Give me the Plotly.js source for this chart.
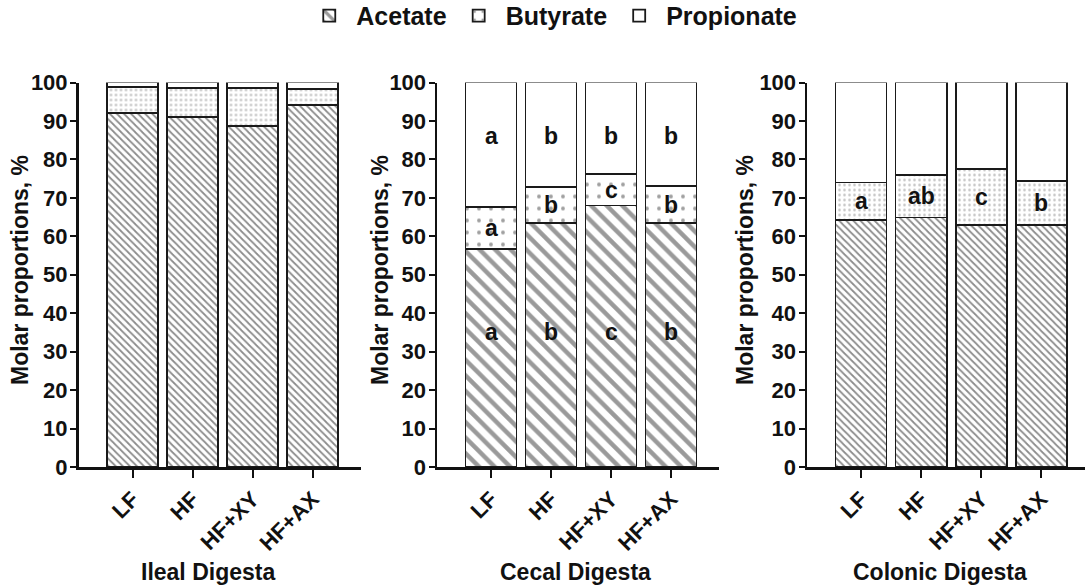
<!DOCTYPE html>
<html>
<head>
<meta charset="utf-8">
<script src="https://cdn.plot.ly/plotly-3.0.1.min.js"></script>
<style>html,body{margin:0;padding:0;background:#fff;}#chart{width:1085px;height:586px;}</style>
</head>
<body>
<div id="chart"></div>
<script>
// ---- data ----
var groups = ["LF", "HF", "HF+XY", "HF+AX"];
var panelTitles = ["Ileal Digesta", "Cecal Digesta", "Colonic Digesta"];
var seriesNames = ["Acetate", "Butyrate", "Propionate"];

var ilealAcetate    = [92.0, 91.0, 88.6, 94.1];
var ilealButyrate   = [6.8, 7.6, 10.0, 4.3];
var ilealPropionate = [1.2, 1.4, 1.4, 1.6];

var cecalAcetate    = [56.8, 63.4, 68.0, 63.4];
var cecalButyrate   = [10.9, 9.5, 8.3, 9.7];
var cecalPropionate = [32.3, 27.1, 23.7, 26.9];

var colonicAcetate    = [64.2, 64.9, 63.0, 63.0];
var colonicButyrate   = [9.8, 11.0, 14.5, 11.3];
var colonicPropionate = [26.0, 24.1, 22.5, 25.7];

var cecalAcetateLetters    = ["a", "b", "c", "b"];
var cecalButyrateLetters   = ["a", "b", "c", "b"];
var cecalPropionateLetters = ["a", "b", "b", "b"];
var colonicButyrateLetters = ["a", "ab", "c", "b"];

var yTickVals = [0,10,20,30,40,50,60,70,80,90,100];
var yTitle = "Molar proportions, %";

// ---- styling ----
var FONT = "Arial, 'Liberation Sans', Helvetica, sans-serif";
var W = 1085, H = 586;
function px(x){ return x / W; }

var panels = [
  {ac: ilealAcetate, bu: ilealButyrate, pr: ilealPropionate, xa: "x", ya: "y",
   hatch: {size: 5, solidity: 0.35, fg: "#8c8c8c"}, dots: {size: 5, solidity: 0.2, fg: "#c0c0c0"}},
  {ac: cecalAcetate, bu: cecalButyrate, pr: cecalPropionate, xa: "x2", ya: "y2",
   hatch: {size: 11, solidity: 0.4, fg: "#9a9a9a"}, dots: {size: 12, solidity: 0.08, fg: "#a0a0a0"}},
  {ac: colonicAcetate, bu: colonicButyrate, pr: colonicPropionate, xa: "x3", ya: "y3",
   hatch: {size: 5, solidity: 0.35, fg: "#8c8c8c"}, dots: {size: 5, solidity: 0.2, fg: "#c0c0c0"}}
];

var traces = [];
panels.forEach(function(p, i){
  var line = {color: "#1a1a1a", width: 1.8};
  traces.push({type: "bar", name: seriesNames[0], x: groups, y: p.ac, xaxis: p.xa, yaxis: p.ya,
    legendgroup: "ac", showlegend: i === 1,
    marker: {color: "#fff", line: line,
      pattern: {shape: "\\", size: p.hatch.size, solidity: p.hatch.solidity, fgcolor: p.hatch.fg, bgcolor: "#fff"}},
    hoverinfo: "skip"});
  traces.push({type: "bar", name: seriesNames[1], x: groups, y: p.bu, xaxis: p.xa, yaxis: p.ya,
    legendgroup: "bu", showlegend: i === 1,
    marker: {color: "#fff", line: line,
      pattern: {shape: ".", size: p.dots.size, solidity: p.dots.solidity, fgcolor: p.dots.fg, bgcolor: "#fff"}},
    hoverinfo: "skip"});
  traces.push({type: "bar", name: seriesNames[2], x: groups, y: p.pr, xaxis: p.xa, yaxis: p.ya,
    legendgroup: "pr", showlegend: i === 1,
    marker: {color: "#fff", line: line}, hoverinfo: "skip"});
});

var yDomain = [(H - 467) / H, (H - 82.5) / H];
function xAxis(domain, range){
  return {domain: domain, type: "category", range: range, showline: true, linecolor: "#111", linewidth: 2.5,
    ticks: "outside", ticklen: 8, tickwidth: 2, tickcolor: "#111", tickangle: -45,
    tickfont: {family: FONT, size: 22, color: "#111", weight: "bold"}, showgrid: false, zeroline: false, fixedrange: true};
}
function yAxis(anchor){
  return {domain: yDomain, anchor: anchor, range: [0, 100], tickvals: yTickVals, showline: true, linecolor: "#111", linewidth: 2.5,
    ticks: "outside", ticklen: 6, tickwidth: 2, tickcolor: "#111", ticklabelstandoff: -2,
    tickfont: {family: FONT, size: 22, color: "#111", weight: "bold"}, showgrid: false, zeroline: false, fixedrange: true};
}

var annotations = [];
var titleX = [208, 575, 940];
panelTitles.forEach(function(t, i){
  annotations.push({text: t, xref: "paper", yref: "paper", x: px(titleX[i]), y: 1 - 572 / H,
    xanchor: "center", yanchor: "middle", showarrow: false,
    font: {family: FONT, size: 23, color: "#111", weight: "bold"}});
});
var yTitleX = [20, 380, 745];
yTitleX.forEach(function(xx){
  annotations.push({text: yTitle, xref: "paper", yref: "paper", x: px(xx), y: 1 - 270 / H,
    xanchor: "center", yanchor: "middle", textangle: -90, showarrow: false,
    font: {family: FONT, size: 23, color: "#111", weight: "bold"}});
});
function letter(txt, xa, ya, xv, yv){
  annotations.push({text: txt, xref: xa, yref: ya, x: xv, y: yv, showarrow: false,
    xanchor: "center", yanchor: "middle", font: {family: FONT, size: 23, color: "#111", weight: "bold"}});
}
groups.forEach(function(g, k){
  letter(cecalAcetateLetters[k], "x2", "y2", g, 35);
  letter(cecalButyrateLetters[k], "x2", "y2", g, cecalAcetate[k] + cecalButyrate[k] / 2);
  letter(cecalPropionateLetters[k], "x2", "y2", g, 86);
  letter(colonicButyrateLetters[k], "x3", "y3", g, colonicAcetate[k] + colonicButyrate[k] / 2);
});

var layout = {
  width: W, height: H, margin: {l: 0, r: 0, t: 0, b: 0, autoexpand: false},
  paper_bgcolor: "#fff", plot_bgcolor: "#fff",
  barmode: "stack", bargap: 0.15,
  font: {family: FONT, color: "#111"},
  xaxis:  xAxis([px(78.5), px(360.5)], [-0.9, 3.8]),
  xaxis2: xAxis([px(437), px(719)], [-0.9, 3.8]),
  xaxis3: xAxis([px(807), px(1085)], [-0.9, 3.73]),
  yaxis:  yAxis("x"),
  yaxis2: yAxis("x2"),
  yaxis3: yAxis("x3"),
  showlegend: true,
  legend: {orientation: "h", x: 0.509, xanchor: "center", y: 1.012, yanchor: "top",
    font: {family: FONT, size: 25, color: "#111", weight: "bold"}, traceorder: "normal",
    itemwidth: 44, bgcolor: "rgba(0,0,0,0)"},
  annotations: annotations
};
Plotly.newPlot("chart", traces, layout, {displayModeBar: false, staticPlot: true});
</script>
</body>
</html>
